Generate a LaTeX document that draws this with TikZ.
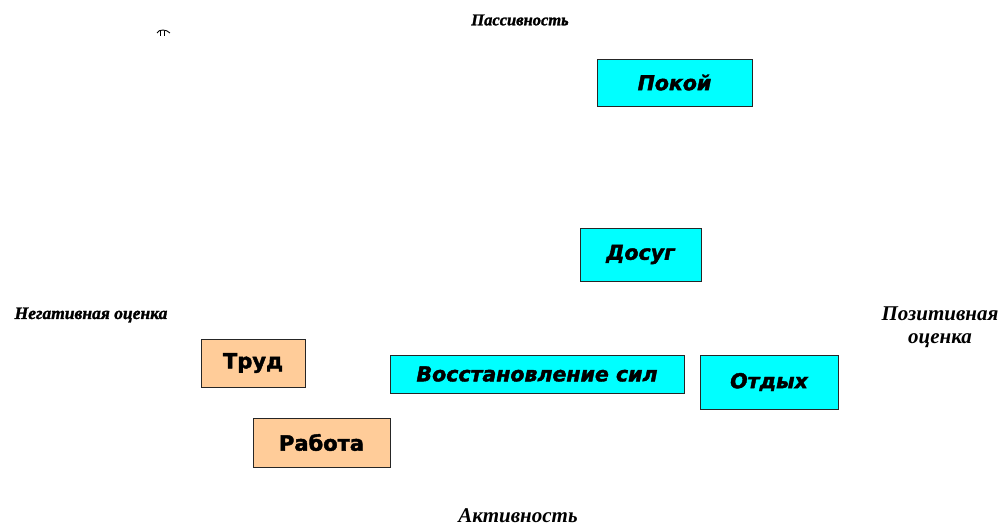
\documentclass[tikz,border=0pt]{standalone}
\usepackage{fontspec}
\setmainfont{Liberation Serif}
\newfontfamily\boxfont[BoldFeatures={FakeBold=2},BoldItalicFeatures={FakeBold=2}]{DejaVu Sans}
\newfontfamily\labfont{Liberation Serif}
\newfontfamily\decofont[BoldItalicFeatures={FakeBold=1.5}]{Liberation Serif}
\definecolor{boxcyan}{RGB}{0,255,255}
\definecolor{boxpeach}{RGB}{255,204,153}
\begin{document}
\begin{tikzpicture}[x=1pt,y=-1pt,
  box/.style={draw=black!85,line width=0.9pt,inner sep=0pt,font=\boxfont\bfseries\fontsize{21}{24}\selectfont},
  cyanbox/.style={box,fill=boxcyan,font=\boxfont\bfseries\itshape\fontsize{20.5}{24}\selectfont},
  peachbox/.style={box,fill=boxpeach},
  axis/.style={font=\labfont\bfseries\itshape\fontsize{21}{23}\selectfont,align=center,inner sep=0pt},
  deco/.style={font=\decofont\bfseries\itshape\fontsize{17.5}{20}\selectfont,inner sep=0pt}]
\useasboundingbox (0,0) rectangle (1001,529);
\node[cyanbox,minimum width=155pt,minimum height=47pt] (pokoj) at (674.5,82.5) {Покой};
\node[cyanbox,minimum width=121pt,minimum height=53pt] (dosug) at (640.5,254.5) {\raisebox{2pt}{Досуг}};
\node[peachbox,minimum width=104pt,minimum height=48pt] (trud) at (253,363) {Труд};
\node[cyanbox,minimum width=294pt,minimum height=38pt] (vosst) at (537,374) {Восстановление сил};
\node[cyanbox,minimum width=138pt,minimum height=54pt] (otdyh) at (769,382) {\raisebox{2pt}{Отдых}};
\node[peachbox,minimum width=137pt,minimum height=49pt] (rabota) at (321.5,442.5) {Работа};
\node[deco,font=\decofont\bfseries\itshape\fontsize{16.5}{20}\selectfont] (pass) at (520,20) {Пассивность};
\node[deco] (neg) at (91,315) {Негативная оценка};
\node[axis] (poz) at (940,327) {Позитивная\\оценка};
\node[axis] (akt) at (518,516) {Активность};
\draw[line width=0.9pt] (157,33) .. controls (159,29) and (166,29) .. (170,33);
\draw[line width=0.9pt] (160,36) -- (160,31) (164,36) -- (164,31);
\end{tikzpicture}
\end{document}
